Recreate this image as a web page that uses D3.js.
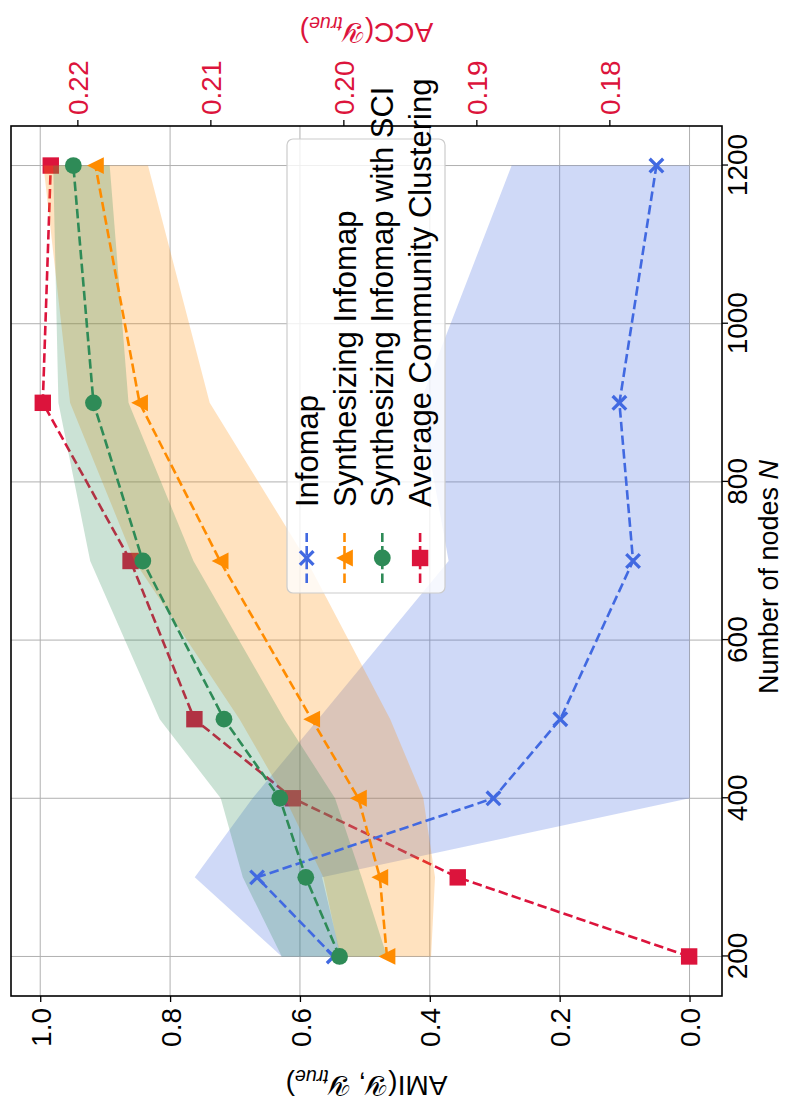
<!DOCTYPE html>
<html>
<head>
<meta charset="utf-8">
<script src="https://cdn.jsdelivr.net/npm/d3@7"></script>
<style>
html,body{margin:0;padding:0;background:#ffffff;}
svg{display:block;}
</style>
</head>
<body>
<svg id="chart" width="803" height="1104"></svg>
<script>
// ---------------- data ----------------
const nodes = [200, 300, 400, 500, 700, 900, 1200];

const infomapMean  = [0.548, 0.666, 0.302, 0.199, 0.087, 0.108, 0.051];
const infomapUpper = [0.628, 0.762, 0.673, 0.572, 0.371, 0.415, 0.274];
const infomapLower = [0.537, 0.566, 0.000, 0.000, 0.000, 0.000, 0.000];

const synthMean  = [0.466, 0.477, 0.510, 0.582, 0.723, 0.847, 0.915];
const synthUpper = [0.538, 0.564, 0.623, 0.693, 0.855, 0.954, 0.995];
const synthLower = [0.398, 0.392, 0.410, 0.461, 0.589, 0.739, 0.834];

const sciMean  = [0.539, 0.591, 0.631, 0.717, 0.842, 0.918, 0.949];
const sciUpper = [0.628, 0.688, 0.722, 0.816, 0.923, 0.972, 0.980];
const sciLower = [0.466, 0.505, 0.546, 0.624, 0.764, 0.864, 0.893];

const accValues = [0.1740, 0.1914, 0.2038, 0.2112, 0.2160, 0.2226, 0.2220];

const nTicks   = [200, 400, 600, 800, 1000, 1200];
const amiTicks = [0.0, 0.2, 0.4, 0.6, 0.8, 1.0];
const accTicks = [0.18, 0.19, 0.20, 0.21, 0.22];

const seriesNames = ["Infomap", "Synthesizing Infomap", "Synthesizing Infomap with SCI", "Average Community Clustering"];
const seriesColors = ["#4169e1", "#ff8c00", "#2e8b57", "#dc143c"];
const seriesMarkers = ["x", "tri", "circle", "square"];

// ---------------- layout (inner, un-rotated frame 1104 x 803) ----------------
const IW = 1104, IH = 803;
const PL = 108, PR = 978, PT = 11, PB = 722;

const svg = d3.select("#chart");

// font detection: prefer a real narrow face
function textWidth(family) {
  const t = svg.append("text").attr("font-family", family).attr("font-size", 100)
    .text("Average Community 0.22");
  const w = t.node().getComputedTextLength();
  t.remove();
  return w;
}
const wNarrow = textWidth("'Liberation Sans Narrow'");
const wRegular = textWidth("'Liberation Sans'");
const HAS_NARROW = wNarrow < 0.92 * wRegular;
const FONT = HAS_NARROW ? "'Liberation Sans Narrow', 'Liberation Sans', sans-serif"
                        : "'Liberation Sans', Arial, sans-serif";
const SQ = HAS_NARROW ? 1 : 0.82;

const root = svg.append("g").attr("transform", `translate(0,${IW}) rotate(-90)`);

const x = d3.scaleLinear().domain([150, 1250]).range([PL, PR]);
const yAMI = d3.scaleLinear().domain([-0.05, 1.045]).range([PB, PT]);
const yACC = d3.scaleLinear().domain([0.17153, 0.22499]).range([PB, PT]);

function squeezeText(sel) {
  if (SQ === 1) return;
  sel.each(function () {
    const tx = +(this.getAttribute("x") || 0), ty = +(this.getAttribute("y") || 0);
    this.setAttribute("transform", `translate(${tx},${ty}) scale(${SQ},1) translate(${-tx},${-ty})`);
  });
}

// ---------------- grid ----------------
const grid = root.append("g");
grid.selectAll("line.gx").data(nTicks).join("line")
  .attr("x1", d => x(d)).attr("x2", d => x(d)).attr("y1", PT).attr("y2", PB)
  .attr("stroke", "#b0b0b0").attr("stroke-width", 1);
grid.selectAll("line.gy").data(amiTicks).join("line")
  .attr("x1", PL).attr("x2", PR).attr("y1", d => yAMI(d)).attr("y2", d => yAMI(d))
  .attr("stroke", "#b0b0b0").attr("stroke-width", 1);

// ---------------- markers ----------------
function drawMarker(g, type, cx, cy, color) {
  if (type === "x") {
    const h = 6.8;
    g.append("path").attr("d", `M${cx - h},${cy - h}L${cx + h},${cy + h}M${cx - h},${cy + h}L${cx + h},${cy - h}`)
      .attr("stroke", color).attr("stroke-width", 3.3).attr("fill", "none");
  } else if (type === "tri") {
    const s = 8.4;
    g.append("path").attr("d", `M${cx},${cy - s}L${cx + s},${cy + s}L${cx - s},${cy + s}Z`).attr("fill", color);
  } else if (type === "circle") {
    g.append("circle").attr("cx", cx).attr("cy", cy).attr("r", 8.4).attr("fill", color);
  } else if (type === "square") {
    const s = 8.2;
    g.append("rect").attr("x", cx - s).attr("y", cy - s).attr("width", 2 * s).attr("height", 2 * s).attr("fill", color);
  }
}

const DASH = "9.5,4.2";
const LW = 2.6;

// ---------------- ACC series (drawn beneath the bands) ----------------
const accData = nodes.map((n, i) => ({ n, v: accValues[i] }));
const gAcc = root.append("g");
gAcc.append("path").datum(accData)
  .attr("d", d3.line().x(d => x(d.n)).y(d => yACC(d.v)))
  .attr("fill", "none").attr("stroke", seriesColors[3]).attr("stroke-width", LW).attr("stroke-dasharray", DASH);
accData.forEach(d => drawMarker(gAcc, "square", x(d.n), yACC(d.v), seriesColors[3]));

// ---------------- bands ----------------
const bandSets = [
  { lo: infomapLower, hi: infomapUpper, c: seriesColors[0] },
  { lo: synthLower, hi: synthUpper, c: seriesColors[1] },
  { lo: sciLower, hi: sciUpper, c: seriesColors[2] }
];
const area = d3.area().x(d => x(d.n)).y0(d => yAMI(d.lo)).y1(d => yAMI(d.hi));
bandSets.forEach(b => {
  const data = nodes.map((n, i) => ({ n, lo: b.lo[i], hi: b.hi[i] }));
  root.append("path").datum(data).attr("d", area).attr("fill", b.c).attr("fill-opacity", 0.25);
});

// ---------------- AMI series ----------------
const amiSets = [infomapMean, synthMean, sciMean];
amiSets.forEach((vals, k) => {
  const data = nodes.map((n, i) => ({ n, v: vals[i] }));
  const g = root.append("g");
  g.append("path").datum(data)
    .attr("d", d3.line().x(d => x(d.n)).y(d => yAMI(d.v)))
    .attr("fill", "none").attr("stroke", seriesColors[k]).attr("stroke-width", LW).attr("stroke-dasharray", DASH);
  data.forEach(d => drawMarker(g, seriesMarkers[k], x(d.n), yAMI(d.v), seriesColors[k]));
});

// ---------------- frame ----------------
root.append("rect").attr("x", PL).attr("y", PT).attr("width", PR - PL).attr("height", PB - PT)
  .attr("fill", "none").attr("stroke", "#000").attr("stroke-width", 1.6);

// ---------------- axes ----------------
const TICK_FS = 28;
const gx = root.append("g").attr("transform", `translate(0,${PB})`)
  .call(d3.axisBottom(x).tickValues(nTicks).tickSize(6).tickFormat(d3.format("d")));
gx.select(".domain").remove();
gx.selectAll("line").attr("stroke", "#000").attr("stroke-width", 1.3);
gx.selectAll("text").attr("y", 25).attr("dy", null)
  .attr("font-family", FONT).attr("font-size", TICK_FS).attr("fill", "#000").call(squeezeText);

const gyL = root.append("g").attr("transform", `translate(${PL},0)`)
  .call(d3.axisLeft(yAMI).tickValues(amiTicks).tickSize(6).tickFormat(d3.format(".1f")));
gyL.select(".domain").remove();
gyL.selectAll("line").attr("stroke", "#000").attr("stroke-width", 1.3);
gyL.selectAll("text").attr("x", -12).attr("dy", "0.36em")
  .attr("font-family", FONT).attr("font-size", TICK_FS).attr("fill", "#000").call(squeezeText);

const gyR = root.append("g").attr("transform", `translate(${PR},0)`)
  .call(d3.axisRight(yACC).tickValues(accTicks).tickSize(6).tickFormat(d3.format(".2f")));
gyR.select(".domain").remove();
gyR.selectAll("line").attr("stroke", "#000").attr("stroke-width", 1.3);
gyR.selectAll("text").attr("x", 11).attr("dy", "0.36em")
  .attr("font-family", FONT).attr("font-size", TICK_FS).attr("fill", seriesColors[3]).call(squeezeText);

// ---------------- axis labels ----------------
const LABEL_FS = 28;
const NLABEL_FS = 27;
function labelGroup(tx, ty, rot) {
  return root.append("g").attr("transform", `translate(${tx},${ty}) rotate(${rot})`)
    .append("g").attr("transform", `scale(${SQ},1)`);
}
const SCRIPT_Y = "\u{1D4B4}";

const lblN = labelGroup(527, 778, 0).append("text")
  .attr("text-anchor", "middle").attr("font-family", FONT).attr("font-size", NLABEL_FS).attr("fill", "#000");
lblN.append("tspan").text("Number of nodes ");
lblN.append("tspan").attr("font-style", "italic").text("N");

const lblA = labelGroup(28, (PT + PB) / 2, -90).append("text")
  .attr("text-anchor", "middle").attr("font-family", FONT).attr("font-size", LABEL_FS).attr("fill", "#000");
lblA.append("tspan").text("AMI(");
lblA.append("tspan").text(SCRIPT_Y);
lblA.append("tspan").text(", ");
lblA.append("tspan").text(SCRIPT_Y);
lblA.append("tspan").attr("font-size", LABEL_FS * 0.7).attr("font-style", "italic").attr("dy", LABEL_FS * 0.22).text("true");
lblA.append("tspan").attr("dy", -LABEL_FS * 0.22).text(")");

const lblC = labelGroup(1081, (PT + PB) / 2, -90).append("text")
  .attr("text-anchor", "middle").attr("font-family", FONT).attr("font-size", LABEL_FS).attr("fill", seriesColors[3]);
lblC.append("tspan").text("ACC(");
lblC.append("tspan").text(SCRIPT_Y);
lblC.append("tspan").attr("font-size", LABEL_FS * 0.7).attr("font-style", "italic").attr("dy", LABEL_FS * 0.22).text("true");
lblC.append("tspan").attr("dy", -LABEL_FS * 0.22).text(")");

// ---------------- legend ----------------
const LEGEND_FS = 31;
const LEG = { x: 511, y: 287, w: 454, h: 158, row0: 306.7, step: 37.8, hx0: 521, hx1: 571, tx: 597 };
const gl = root.append("g");
gl.append("rect").attr("x", LEG.x).attr("y", LEG.y).attr("width", LEG.w).attr("height", LEG.h)
  .attr("rx", 6).attr("ry", 6).attr("fill", "#fff").attr("fill-opacity", 0.8)
  .attr("stroke", "#cccccc").attr("stroke-width", 1.2);
seriesNames.forEach((name, i) => {
  const cy = LEG.row0 + i * LEG.step;
  gl.append("line").attr("x1", LEG.hx0).attr("x2", LEG.hx1).attr("y1", cy).attr("y2", cy)
    .attr("stroke", seriesColors[i]).attr("stroke-width", LW).attr("stroke-dasharray", DASH);
  drawMarker(gl, seriesMarkers[i], (LEG.hx0 + LEG.hx1) / 2, cy, seriesColors[i]);
  gl.append("g").attr("transform", `translate(${LEG.tx},${cy + 0.358 * LEGEND_FS}) scale(${SQ},1)`)
    .append("text").attr("font-family", FONT).attr("font-size", LEGEND_FS).attr("fill", "#000").text(name);
});
</script>
</body>
</html>
